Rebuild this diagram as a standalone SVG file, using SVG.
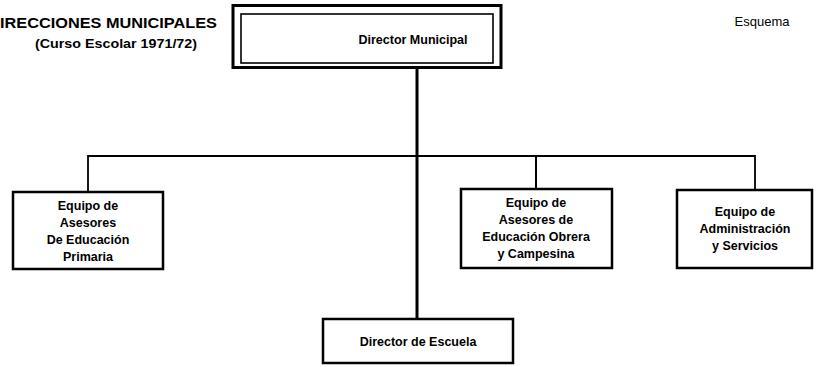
<svg xmlns="http://www.w3.org/2000/svg" width="820" height="367" viewBox="0 0 820 367">
<style>
.box{fill:#fff;stroke:#000;stroke-width:2.5}
.t{font-family:"Liberation Sans",Arial,sans-serif;font-weight:bold;font-size:12.5px;fill:#000;text-anchor:middle}
.c{stroke:#000;fill:none}
</style>
<rect width="820" height="367" fill="#fff"/>
<g id="title">
<text x="0" y="28" textLength="217" lengthAdjust="spacingAndGlyphs" style="font-family:'Liberation Sans',Arial,sans-serif;font-weight:bold;font-size:15px">IRECCIONES MUNICIPALES</text>
<text x="35" y="48" textLength="162" lengthAdjust="spacingAndGlyphs" style="font-family:'Liberation Sans',Arial,sans-serif;font-weight:bold;font-size:13.5px">(Curso Escolar 1971/72)</text>
<text x="762" y="26" style="font-family:'Liberation Sans',Arial,sans-serif;font-size:13px;text-anchor:middle">Esquema</text>
</g>
<g id="connectors">
<line class="c" x1="417" y1="68" x2="417" y2="319" stroke-width="3"/>
<polyline class="c" points="88,192 88,156 755,156 755,190" stroke-width="1.8"/>
<line class="c" x1="536" y1="156" x2="536" y2="189" stroke-width="2"/>
</g>
<g id="director-municipal">
<rect x="233" y="5.5" width="268" height="62" fill="#fff" stroke="#000" stroke-width="3"/>
<rect x="241" y="14" width="252" height="49" fill="none" stroke="#000" stroke-width="1.6"/>
<text x="413" y="44" class="t">Director Municipal</text>
</g>
<g id="primaria">
<rect class="box" x="13" y="192" width="150" height="77"/>
<text class="t" x="88" y="210">Equipo de</text>
<text class="t" x="88" y="227">Asesores</text>
<text class="t" x="88" y="244">De Educación</text>
<text class="t" x="88" y="261">Primaria</text>
</g>
<g id="obrera">
<rect class="box" x="461" y="189" width="151" height="79"/>
<text class="t" x="536" y="207">Equipo de</text>
<text class="t" x="536" y="224">Asesores de</text>
<text class="t" x="536" y="241">Educación Obrera</text>
<text class="t" x="536" y="258">y Campesina</text>
</g>
<g id="administracion">
<rect class="box" x="677" y="190" width="135" height="78"/>
<text class="t" x="745" y="216">Equipo de</text>
<text class="t" x="745" y="233">Administración</text>
<text class="t" x="745" y="250">y Servicios</text>
</g>
<g id="director-escuela">
<rect class="box" x="323" y="319" width="190" height="44"/>
<text class="t" x="418" y="346">Director de Escuela</text>
</g>
</svg>
